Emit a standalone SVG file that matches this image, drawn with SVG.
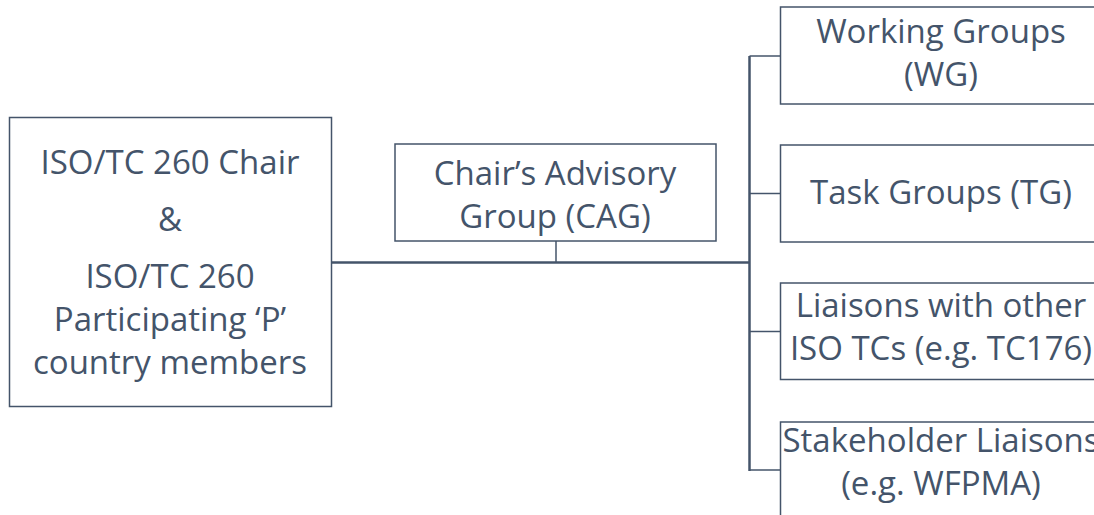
<svg xmlns="http://www.w3.org/2000/svg" width="1094" height="515" viewBox="0 0 1094 515">
<style>
.box{fill:#ffffff;stroke:#44546A;stroke-width:1.5}
.t{font-family:"Open Sans","Liberation Sans",sans-serif;font-size:33px;fill:#44546A;text-anchor:middle}
.c{fill:none;stroke:#44546A;stroke-width:1.5}
.m{fill:none;stroke:#44546A;stroke-width:2.5}
</style>
<rect width="1094" height="515" fill="#ffffff"/>
<g id="connectors">
<line class="m" x1="332" y1="262.5" x2="749.5" y2="262.5"/>
<line class="c" x1="556" y1="241" x2="556" y2="262"/>
<line class="m" x1="749.5" y1="56" x2="749.5" y2="471"/>
<line class="c" x1="749.5" y1="56" x2="780" y2="56"/>
<line class="c" x1="749.5" y1="193.5" x2="780" y2="193.5"/>
<line class="c" x1="749.5" y1="331.5" x2="780" y2="331.5"/>
<line class="c" x1="749.5" y1="470" x2="780" y2="470"/>
</g>
<g id="chair">
<rect class="box" x="9.5" y="117.5" width="322" height="289"/>
<text class="t" x="170" y="174">ISO/TC 260 Chair</text>
<text class="t" x="170" y="231">&amp;</text>
<text class="t" x="170" y="288">ISO/TC 260</text>
<text class="t" x="170" y="331">Participating ‘P’</text>
<text class="t" x="170" y="374">country members</text>
</g>
<g id="cag">
<rect class="box" x="395" y="144" width="321" height="97"/>
<text class="t" x="555" y="185">Chair’s Advisory</text>
<text class="t" x="555" y="228">Group (CAG)</text>
</g>
<g id="wg">
<rect class="box" x="780.5" y="7" width="322" height="97"/>
<text class="t" x="941" y="43">Working Groups</text>
<text class="t" x="941" y="86">(WG)</text>
</g>
<g id="tg">
<rect class="box" x="780.5" y="145" width="322" height="97"/>
<text class="t" x="941" y="204">Task Groups (TG)</text>
</g>
<g id="liaisons">
<rect class="box" x="780.5" y="283" width="322" height="96.5"/>
<text class="t" x="941" y="317">Liaisons with other</text>
<text class="t" x="941" y="360">ISO TCs (e.g. TC176)</text>
</g>
<g id="stakeholder">
<rect class="box" x="780.5" y="422" width="322" height="97"/>
<text class="t" x="941" y="452">Stakeholder Liaisons</text>
<text class="t" x="941" y="495">(e.g. WFPMA)</text>
</g>
</svg>
